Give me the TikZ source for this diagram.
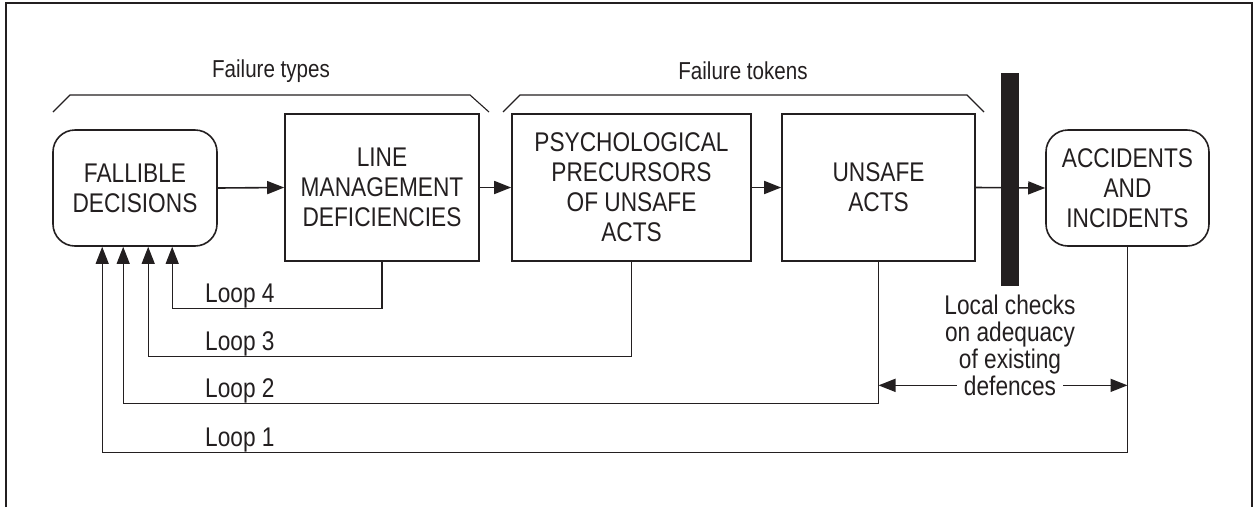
\documentclass[tikz,border=0pt]{standalone}
\usepackage{fontspec}
\setmainfont{Liberation Sans}[FakeStretch=0.84]
\usetikzlibrary{arrows.meta,calc}
\definecolor{ink}{HTML}{231F20}
\begin{document}
\begin{tikzpicture}[x=1pt,y=-1pt,
  box/.style={draw=ink,line width=1.6pt,text=ink,align=center,
    font=\fontsize{27}{30}\selectfont,inner sep=0pt},
  rbox/.style={box,rounded corners=22pt},
  flow/.style={draw=ink,line width=1.6pt,-{Triangle[length=17pt,width=13pt]}},
  loopline/.style={draw=ink,line width=1.1pt,-{Triangle[length=17pt,width=13pt]}},
  lbl/.style={text=ink,font=\fontsize{27}{27}\selectfont,inner sep=0pt},
  headlbl/.style={text=ink,font=\fontsize{24.5}{27}\selectfont,inner sep=0pt},
  brace/.style={draw=ink,line width=1.1pt},
  frame/.style={draw=ink,line width=1.5pt}]
\useasboundingbox (0,0) rectangle (1255,507);

% outer frame (open at the bottom)
\draw[frame] (6,507) -- (6,3) -- (1252,3) -- (1252,507);

% main chain of boxes
\node[rbox,minimum width=164pt,minimum height=116pt] (fd)  at (135,188)   {FALLIBLE\\DECISIONS};
\node[box,minimum width=194pt,minimum height=147pt]  (lmd) at (382,187.5) {LINE\\MANAGEMENT\\DEFICIENCIES};
\node[box,minimum width=239pt,minimum height=147pt]  (psy) at (631.5,187.5) {PSYCHOLOGICAL\\PRECURSORS\\OF UNSAFE\\ACTS};
\node[box,minimum width=193pt,minimum height=147pt]  (ua)  at (878.5,187.5) {UNSAFE\\ACTS};
\node[rbox,minimum width=163pt,minimum height=116pt] (ai)  at (1127.5,188) {ACCIDENTS\\AND\\INCIDENTS};

% forward arrows
\draw[flow] (fd.east) -- (lmd.west);
\draw[flow] (lmd.east) -- (psy.west);
\draw[flow] (psy.east) -- (ua.west);
\draw[flow] (ua.east) -- (ai.west);

% defence barrier
\node[fill=ink,minimum width=18pt,minimum height=213pt,inner sep=0pt] (barrier) at (1010,179.5) {};

% group brackets
\draw[brace] (53,112) -- (70,95) -- (470,95) -- (489,112);
\draw[brace] (503,112) -- (520,95) -- (967,95) -- (984,112);
\node[headlbl] (types)  at (271,71) {Failure types};
\node[headlbl] (tokens) at (743,71) {Failure tokens};

% feedback loop entry points on the decisions box
\coordinate (in1) at ($(fd.south west)+(50,0)$);
\coordinate (in2) at ($(fd.south west)+(71,0)$);
\coordinate (in3) at ($(fd.south west)+(96,0)$);
\coordinate (in4) at ($(fd.south west)+(120,0)$);

% feedback loops
\draw[loopline] (lmd.south) -- ++(0,47)  -| (in4);
\draw[loopline] (psy.south) -- ++(0,95)  -| (in3);
\draw[loopline] (ua.south)  -- ++(0,142) -| (in2);
\draw[loopline] (ai.south)  -- ++(0,206) -| (in1);

\node[lbl,anchor=base west] (l4) at (205,302) {Loop 4};
\node[lbl,anchor=base west] (l3) at (205,350) {Loop 3};
\node[lbl,anchor=base west] (l2) at (205,397) {Loop 2};
\node[lbl,anchor=base west] (l1) at (205,446) {Loop 1};

% local checks annotation
\node[lbl,align=center,anchor=north] (checks) at (1010,295) {Local checks\\on adequacy\\of existing};
\node[lbl,anchor=base,inner xsep=7pt] (def) at (1010,395) {defences};
\draw[flow] (def.west) -- (ua.south |- def.west);
\draw[flow] (def.east) -- (ai.south |- def.east);
\end{tikzpicture}
\end{document}
